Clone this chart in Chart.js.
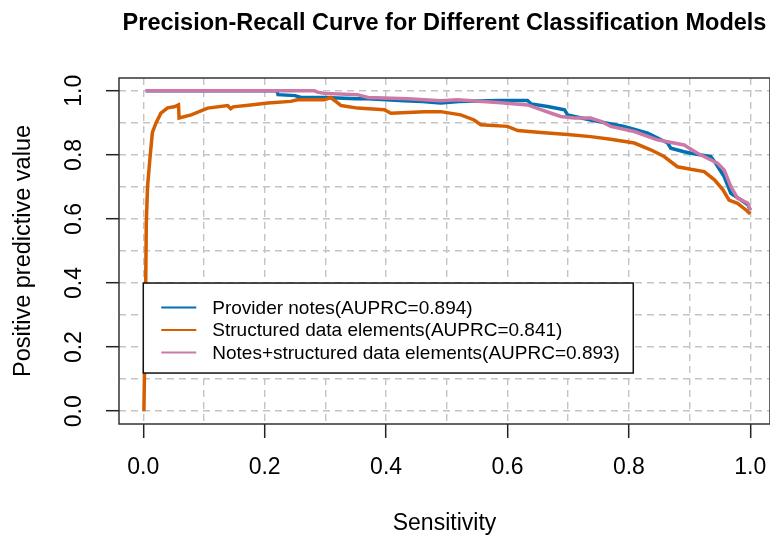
<!DOCTYPE html>
<html>
<head>
<meta charset="utf-8">
<title>Precision-Recall Curve</title>
<script src="https://cdn.jsdelivr.net/npm/chart.js@4.4.1/dist/chart.umd.min.js"></script>
<style>
  html, body { margin: 0; padding: 0; background: #fff; }
  #wrap { width: 770px; height: 537px; }
</style>
</head>
<body>
<div id="wrap"><canvas id="prChart" width="770" height="537"></canvas></div>
<script>
// Values (x = sensitivity, y = positive predictive value)
const notesRecall = [0.004, 0.22, 0.222, 0.25, 0.26, 0.30, 0.35, 0.37, 0.43, 0.46, 0.49, 0.52, 0.584, 0.633, 0.639, 0.666, 0.694, 0.699, 0.737, 0.792, 0.831, 0.864, 0.869, 0.891, 0.902, 0.935, 0.943, 0.957, 0.968, 0.985, 0.996, 1.0];
const notesPrecision = [1.0, 1.0, 0.988, 0.985, 0.979, 0.979, 0.975, 0.975, 0.969, 0.967, 0.962, 0.967, 0.970, 0.970, 0.959, 0.951, 0.941, 0.925, 0.909, 0.889, 0.868, 0.837, 0.821, 0.810, 0.805, 0.795, 0.774, 0.732, 0.680, 0.659, 0.644, 0.628];

const structRecall = [0.001, 0.002, 0.003, 0.004, 0.005, 0.007, 0.011, 0.015, 0.021, 0.029, 0.040, 0.051, 0.058, 0.059, 0.079, 0.106, 0.139, 0.144, 0.148, 0.177, 0.205, 0.243, 0.254, 0.298, 0.309, 0.326, 0.353, 0.397, 0.408, 0.463, 0.490, 0.523, 0.545, 0.556, 0.600, 0.617, 0.655, 0.699, 0.737, 0.770, 0.809, 0.836, 0.858, 0.880, 0.902, 0.924, 0.941, 0.955, 0.965, 0.979, 0.993, 1.0];
const structPrecision = [0.0, 0.12, 0.25, 0.40, 0.59, 0.70, 0.79, 0.87, 0.90, 0.93, 0.947, 0.95, 0.956, 0.915, 0.925, 0.946, 0.954, 0.944, 0.950, 0.956, 0.962, 0.967, 0.972, 0.972, 0.979, 0.954, 0.946, 0.941, 0.930, 0.935, 0.935, 0.925, 0.909, 0.894, 0.889, 0.876, 0.870, 0.864, 0.857, 0.849, 0.837, 0.816, 0.795, 0.763, 0.755, 0.748, 0.722, 0.691, 0.659, 0.649, 0.628, 0.616];

const comboRecall = [0.004, 0.282, 0.287, 0.298, 0.353, 0.370, 0.436, 0.490, 0.518, 0.589, 0.633, 0.655, 0.672, 0.688, 0.710, 0.737, 0.754, 0.770, 0.809, 0.847, 0.891, 0.913, 0.946, 0.957, 0.968, 0.979, 0.996, 1.0];
const comboPrecision = [1.0, 1.0, 0.996, 0.992, 0.988, 0.979, 0.975, 0.969, 0.972, 0.963, 0.956, 0.941, 0.930, 0.920, 0.915, 0.915, 0.905, 0.889, 0.873, 0.847, 0.831, 0.805, 0.774, 0.753, 0.701, 0.665, 0.649, 0.628];

const seriesNames = [
	'Provider notes(AUPRC=0.894)',
	'Structured data elements(AUPRC=0.841)',
	'Notes+structured data elements(AUPRC=0.893)'
];
const xTickLabels = ['0.0', '0.2', '0.4', '0.6', '0.8', '1.0'];
const yTickLabels = ['0.0', '0.2', '0.4', '0.6', '0.8', '1.0'];

const FONT = "'Liberation Sans', Arial, sans-serif";

function toPoints(xs, ys) {
	return xs.map((x, i) => ({ x: x, y: ys[i] }));
}

// grid every 0.1, labels and tick marks every 0.2
function isMajor(value) {
	return Math.round(value * 10) % 2 === 0;
}
function labelFrom(labels) {
	return function (value) {
		const k = Math.round(value * 10);
		return k % 2 === 0 ? (labels[k / 2] || '') : '';
	};
}

// plot box and the boxed legend placed at (0, 0.4) in data units
const boxAndLegend = {
	id: 'boxAndLegend',
	afterDatasetsDraw(chart) {
		const ctx = chart.ctx;
		const a = chart.chartArea;
		ctx.save();
		ctx.strokeStyle = '#333';
		ctx.lineWidth = 1.5;
		ctx.strokeRect(a.left, a.top, a.right - a.left, a.bottom - a.top);

		const lx = chart.scales.x.getPixelForValue(0);
		const ly = chart.scales.y.getPixelForValue(0.4);
		const w = 490, h = 90;
		ctx.fillStyle = '#fff';
		ctx.fillRect(lx, ly, w, h);
		ctx.strokeStyle = '#111';
		ctx.lineWidth = 1.5;
		ctx.strokeRect(lx, ly, w, h);

		ctx.font = '19px ' + FONT;
		ctx.textBaseline = 'middle';
		ctx.textAlign = 'left';
		chart.data.datasets.forEach((ds, i) => {
			const rowY = ly + 24.5 + i * 22.5;
			ctx.strokeStyle = ds.borderColor;
			ctx.lineWidth = 2;
			ctx.beginPath();
			ctx.moveTo(lx + 18, rowY);
			ctx.lineTo(lx + 53, rowY);
			ctx.stroke();
			ctx.fillStyle = '#000';
			ctx.fillText(ds.label, lx + 69, rowY + 1);
		});
		ctx.restore();
	}
};

const ctx = document.getElementById('prChart').getContext('2d');
new Chart(ctx, {
	type: 'line',
	data: {
		datasets: [{
			label: seriesNames[0],
			data: toPoints(notesRecall, notesPrecision),
			borderColor: '#0072B2',
			order: 2
		}, {
			label: seriesNames[1],
			data: toPoints(structRecall, structPrecision),
			borderColor: '#D55E00',
			order: 1
		}, {
			label: seriesNames[2],
			data: toPoints(comboRecall, comboPrecision),
			borderColor: '#CC79A7',
			order: 0
		}]
	},
	options: {
		responsive: false,
		animation: false,
		parsing: false,
		layout: { padding: 0 },
		elements: {
			point: { radius: 0 },
			line: { borderWidth: 3.5, tension: 0, fill: false }
		},
		plugins: {
			legend: { display: false },
			tooltip: { enabled: false },
			title: {
				display: true,
				fullSize: false,
				text: 'Precision-Recall Curve for Different Classification Models',
				color: '#000',
				font: { family: FONT, size: 23.5, weight: 'bold' },
				padding: { top: 9, bottom: 40.8 }
			}
		},
		scales: {
			x: {
				type: 'linear',
				min: -0.04,
				max: 1.0325,
				afterFit(scale) {
					scale.height = 113;
					scale.paddingLeft = 0;
					scale.paddingRight = 0;
				},
				border: { display: false, dash: [7, 5] },
				grid: {
					color: '#c4c4c4',
					lineWidth: 1.4,
					drawTicks: true,
					tickLength: 14,
					tickWidth: 1.5,
					tickBorderDash: [],
					tickColor: (c) => (c.tick && isMajor(c.tick.value)) ? '#222' : 'rgba(0,0,0,0)'
				},
				ticks: {
					stepSize: 0.1,
					includeBounds: false,
					autoSkip: false,
					maxRotation: 0,
					padding: 16,
					color: '#000',
					font: { family: FONT, size: 23 },
					callback: labelFrom(xTickLabels)
				},
				title: {
					display: true,
					text: 'Sensitivity',
					color: '#000',
					font: { family: FONT, size: 23 },
					padding: { top: 0, bottom: 0 }
				}
			},
			y: {
				type: 'linear',
				min: -0.04,
				max: 1.04,
				afterFit(scale) { scale.width = 119; },
				border: { display: false, dash: [7, 5] },
				grid: {
					color: '#c4c4c4',
					lineWidth: 1.4,
					drawTicks: true,
					tickLength: 13,
					tickWidth: 1.5,
					tickBorderDash: [],
					tickColor: (c) => (c.tick && isMajor(c.tick.value)) ? '#222' : 'rgba(0,0,0,0)'
				},
				ticks: {
					stepSize: 0.1,
					includeBounds: false,
					autoSkip: false,
					minRotation: 90,
					maxRotation: 90,
					crossAlign: 'center',
					padding: 15,
					color: '#000',
					font: { family: FONT, size: 23 },
					callback: labelFrom(yTickLabels)
				},
				title: {
					display: true,
					text: 'Positive predictive value',
					color: '#000',
					font: { family: FONT, size: 23.5 },
					padding: { top: 9, bottom: 0 }
				}
			}
		}
	},
	plugins: [boxAndLegend]
});
</script>
</body>
</html>
